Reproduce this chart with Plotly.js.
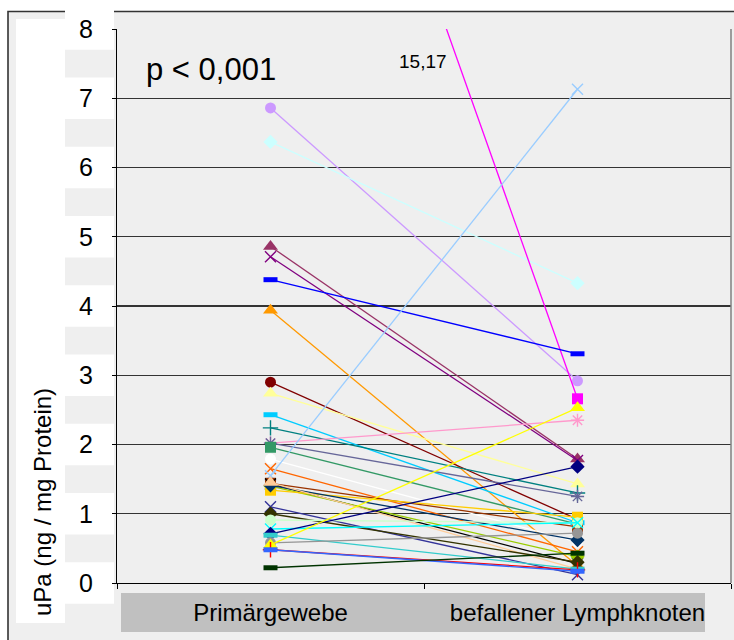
<!DOCTYPE html>
<html>
<head>
<meta charset="utf-8">
<script src="https://cdn.plot.ly/plotly-3.0.1.min.js"></script>
<style>html,body{margin:0;padding:0;background:#fff;}#chart{width:734px;height:640px;}</style>
</head>
<body>
<div id="chart"></div>
<script>
// ---- data ----
const categories = ['Primärgewebe', 'befallener Lymphknoten'];
const primaer = [6.86, 6.37, 15.17, 4.86, 4.71, 4.38, 3.94, 2.90, 2.74, 2.43, 2.24, 2.02, 2.02, 1.96, 1.79, 1.65, 1.55, 1.44, 1.43, 1.40, 1.34, 1.41, 1.45, 1.10, 1.00, 0.91, 0.78, 0.71, 0.69, 0.58, 0.55, 0.48, 0.48, 0.22];
const lymph   = [2.92, 4.33, 2.66, 1.79, 1.77, 3.31, 0.25, 0.92, 1.43, 0.87, 1.30, 2.35, 1.25, 0.85, 0.59, 0.45, 7.13, 0.81, 0.28, 0.38, 0.95, 0.62, 0.20, 0.12, 0.30, 0.87, 0.87, 1.68, 0.20, 0.72, 2.53, 0.19, 0.17, 0.43];
const yTicks = [0, 1, 2, 3, 4, 5, 6, 7, 8];
const pText = 'p < 0,001';
const yTitle = 'uPa (ng / mg Protein)';

// ---- styles ----
const colors = ['#cc99ff', '#ccffff', '#ff00ff', '#993366', '#800080', '#0000ff', '#ff9900', '#800000', '#ffff99', '#00ccff', '#008080', '#ff99cc', '#666699', '#339966', '#ffffff', '#ff6600', '#99ccff', '#993300', '#000000', '#99cc00', '#ffcc00', '#003366', '#ffcc99', '#333399', '#333300', '#ccffcc', '#00ffff', '#000080', '#33cccc', '#969696', '#ffff00', '#ff0000', '#3366ff', '#003300'];
const symbols = ['circle', 'diamond', 'square', 'triangle-up', 'x-thin-open', 'line-ew-open', 'triangle-up', 'circle', 'triangle-up', 'line-ew-open', 'cross-thin-open', 'asterisk-open', 'asterisk-open', 'square', 'circle', 'x-thin-open', 'x-thin-open', 'square', 'x-thin-open', 'diamond', 'square', 'diamond', 'triangle-up', 'x-thin-open', 'diamond', 'circle', 'x-thin-open', 'diamond', 'line-ew-open', 'circle', 'triangle-up', 'cross-thin-open', 'line-ew-open', 'line-ew-open'];

const traces = primaer.map((p, i) => {
  const sym = symbols[i];
  const open = sym.endsWith('-open');
  const dash = sym.startsWith('line-ew');
  return {
    type: 'scatter', mode: 'lines+markers',
    x: categories, y: [p, lymph[i]],
    line: {color: colors[i], width: 1.3},
    marker: {
      symbol: sym, color: colors[i],
      size: dash ? 10 : (open ? 11 : (sym === 'triangle-up' ? 13 : 11)),
      line: {color: colors[i], width: dash ? 5 : (open ? 1.4 : 0)}
    },
    showlegend: false, hoverinfo: 'y'
  };
});

// geometry helpers (pixel -> paper)
const L = 117, R = 3, T = 29, B = 57, W = 734, H = 640;
const PW = W - L - R, PH = H - T - B;
const px = v => (v - L) / PW;
const py = v => (H - B - v) / PH;
const yMax = yTicks[yTicks.length - 1];

const shapes = [
  {type: 'rect', layer: 'below', xref: 'paper', yref: 'paper', x0: px(8), x1: px(745), y0: py(660), y1: py(11.5), fillcolor: '#efefef', line: {color: '#333', width: 1.6}},
  {type: 'rect', layer: 'below', xref: 'paper', yref: 'paper', x0: px(16), x1: px(65), y0: py(623), y1: py(19), fillcolor: '#ffffff', line: {width: 0}},
  {type: 'rect', layer: 'below', xref: 'paper', yref: 'paper', x0: px(121), x1: px(705), y0: py(632), y1: py(593), fillcolor: '#c0c0c0', line: {width: 0}},
  {type: 'line', layer: 'above', xref: 'paper', yref: 'paper', x0: 1, x1: 1, y0: 0, y1: 1, line: {color: '#808080', width: 1.5}}
];
yTicks.forEach(t => shapes.push({
  type: 'rect', layer: 'below', xref: 'paper', yref: 'paper',
  x0: px(65), x1: px(114), y0: (t - 0.30) / yMax, y1: (t + 0.30) / yMax,
  fillcolor: '#ffffff', line: {width: 0}
}));

const font = 'Arial, "Liberation Sans", sans-serif';
const layout = {
  width: W, height: H,
  margin: {l: L, r: R, t: T, b: B, pad: 0},
  paper_bgcolor: '#ffffff', plot_bgcolor: 'rgba(0,0,0,0)',
  font: {family: font, color: '#000', size: 24},
  showlegend: false,
  xaxis: {
    type: 'category', range: [-0.5, 1.5], fixedrange: true,
    showline: true, linecolor: '#000', linewidth: 1,
    ticks: 'outside', tickson: 'boundaries', ticklen: 5, tickcolor: '#000',
    showgrid: false, zeroline: false,
    tickfont: {size: 24, family: font, color: '#000'}, ticklabelstandoff: 8
  },
  yaxis: {
    range: [0, yMax], tickvals: yTicks, ticktext: yTicks.map(String), fixedrange: true,
    showline: true, linecolor: '#000', linewidth: 1,
    ticks: 'outside', ticklen: 4, tickcolor: '#000',
    showgrid: true, gridcolor: '#333', gridwidth: 1.3, zeroline: false,
    tickfont: {size: 25, family: font, color: '#000'}, ticklabelstandoff: 14
  },
  shapes: shapes,
  annotations: [
    {xref: 'paper', yref: 'paper', x: px(211), y: py(69), xanchor: 'center', yanchor: 'middle', text: pText, showarrow: false, font: {size: 31, family: font, color: '#000'}},
    {xref: 'paper', yref: 'paper', x: px(423), y: py(61), xanchor: 'center', yanchor: 'middle', text: String(primaer[2]).replace('.', ','), showarrow: false, font: {size: 19, family: font, color: '#000'}},
    {xref: 'paper', yref: 'paper', x: px(42), y: py(502), xanchor: 'center', yanchor: 'middle', text: yTitle, textangle: -90, showarrow: false, font: {size: 24, family: font, color: '#000'}}
  ]
};

Plotly.newPlot('chart', traces, layout, {staticPlot: true, displayModeBar: false});
</script>
</body>
</html>
